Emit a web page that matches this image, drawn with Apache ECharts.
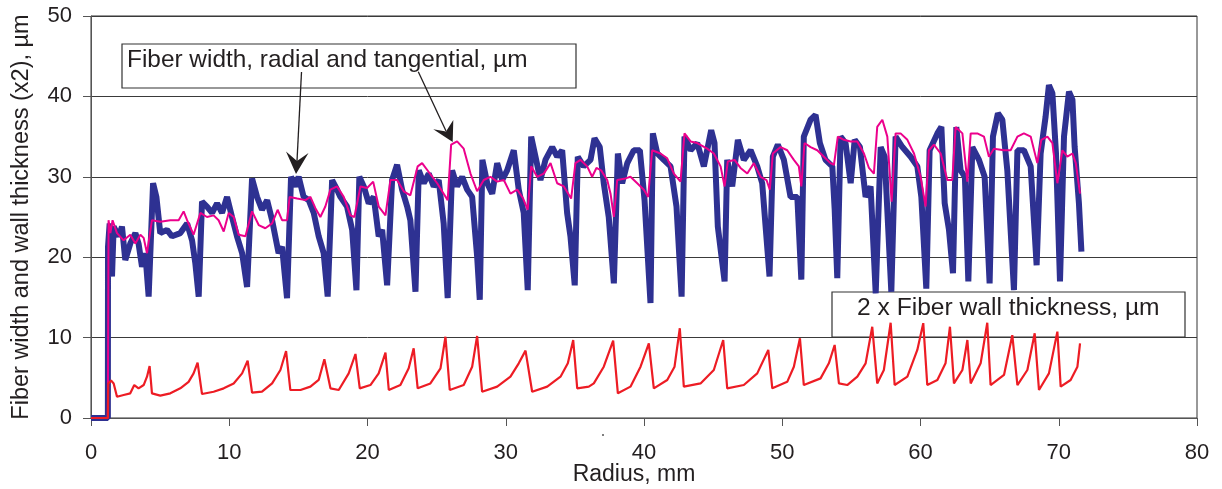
<!DOCTYPE html>
<html>
<head>
<meta charset="utf-8">
<script src="https://cdn.jsdelivr.net/npm/echarts@6/dist/echarts.min.js"></script>
<style>
html,body{margin:0;padding:0;background:#fff;}
#chart{width:1222px;height:489px;}
</style>
</head>
<body>
<div id="chart"></div>
<script>
// ---- axis ticks ----
const xTicks = [0, 10, 20, 30, 40, 50, 60, 70, 80];
const yTicks = [0, 10, 20, 30, 40, 50];

// ---- Fiber width, radial (thick blue) ----
const radialX = [0,1.22,1.23,1.35,1.52,1.64,2.0,2.24,2.48,2.84,3.21,3.44,3.69,3.93,4.17,4.49,4.73,5.01,5.5,5.86,6.46,6.95,7.31,7.55,7.79,8.03,8.39,8.76,9.12,9.48,9.84,10.2,10.56,10.93,11.29,11.65,12.01,12.37,12.74,13.1,13.57,13.82,14.18,14.47,14.78,15.02,15.38,15.75,16.11,16.47,16.83,17.12,17.44,17.8,18.04,18.52,18.89,19.2,19.41,19.73,20.09,20.45,20.81,21.06,21.42,21.78,22.14,22.5,22.87,23.1,23.47,23.71,24.07,24.43,24.79,25.15,25.51,25.8,26.12,26.48,26.85,27.21,27.57,27.93,28.12,28.31,28.66,29.02,29.38,29.74,30.1,30.58,30.94,31.3,31.59,31.84,32.15,32.51,32.87,33.36,33.72,34.08,34.44,34.68,34.99,35.21,35.64,36.13,36.42,36.8,37.09,37.45,37.82,38.11,38.42,38.79,39.26,39.7,40.04,40.47,40.64,40.96,41.43,41.92,42.35,42.72,42.93,43.37,43.85,44.33,44.86,45.1,45.34,45.83,46.02,46.38,46.79,47.22,47.71,48.19,48.55,49.08,49.32,49.68,50.12,50.6,51.09,51.38,51.56,52.05,52.41,52.72,53.13,53.62,53.79,53.98,54.22,54.58,54.95,55.24,55.62,56.03,56.39,56.76,57.12,57.41,57.89,58.2,58.69,59.29,59.77,60.06,60.42,60.66,61.22,61.51,61.75,62.06,62.35,62.59,62.9,63.21,63.46,63.75,64.23,64.64,65.0,65.24,65.6,65.92,66.28,66.76,67.01,67.48,67.97,68.4,68.69,69.05,69.29,69.54,69.8,70.09,70.38,70.74,70.99,71.15,71.46,71.64];
const radialY = [0,0,21.3,24.2,17.6,23.8,22.6,23.8,19.65,21.7,23.0,21.7,18.8,20.5,15.1,29.2,27.5,23.0,23.4,22.6,23.0,24.2,22.1,19.2,15.1,26.9,26.3,25.5,26.7,25.5,27.5,25.0,22.6,20.5,16.3,29.8,27.5,25.9,27.1,24.6,20.5,21.3,14.9,30.0,28.8,30.0,27.5,27.1,25.5,22.6,20.5,15.1,29.6,28.4,27.5,26.3,23.4,15.9,30.0,28.8,26.7,27.5,22.6,23.4,16.5,29.6,31.5,28.4,26.3,24.6,15.7,30.8,29.2,30.4,28.8,29.6,24.2,14.9,30.8,28.8,30.0,28.4,27.5,20.1,14.7,32.1,29.2,27.9,31.7,29.6,30.8,33.3,28.4,25.5,15.9,35.0,32.5,29.6,32.1,33.7,32.5,33.3,25.5,22.6,16.5,32.5,31.3,32.1,34.8,33.7,29.2,25.0,16.75,32.9,29.2,31.7,33.3,33.3,27.1,14.3,35.4,32.9,32.1,31.3,26.3,15.1,35.0,33.3,34.2,31.3,35.8,34.2,23.8,17.0,32.1,28.8,34.6,32.1,33.3,31.3,29.2,17.6,32.5,34.0,32.1,27.5,27.5,17.2,35.0,37.1,37.7,34.2,32.1,31.3,26.0,17.4,35.0,34.2,29.2,34.6,33.7,27.5,28.8,15.5,33.7,32.5,15.7,35.0,33.7,32.5,31.3,27.5,16.1,33.3,35.4,36.2,26.7,23.4,18.0,36.2,30.8,30.0,17.0,33.7,32.1,30.0,16.75,35.0,37.9,37.1,30.8,15.9,33.3,33.3,31.3,19.0,32.9,37.5,41.4,40.4,32.9,17.0,35.0,40.6,39.6,33.7,26.7,20.7];

// ---- Fiber width, tangential (thin magenta) ----
const tangX = [0,1.22,1.27,1.4,1.56,1.88,2.36,2.84,3.21,3.57,3.81,4.05,4.41,5.01,5.74,6.34,6.7,6.95,7.42,7.91,8.39,8.87,9.23,9.6,9.96,10.32,10.68,11.17,11.65,12.13,12.61,13.1,13.5,13.82,14.18,14.37,14.91,15.51,15.87,16.23,16.59,16.95,17.32,17.8,18.28,18.76,19.05,19.49,19.97,20.41,20.81,21.3,21.66,22.14,22.62,23.1,23.63,23.95,24.43,25.04,25.51,25.8,26.05,26.48,26.96,27.45,27.93,28.41,28.89,29.38,29.86,30.34,30.83,31.26,31.59,31.84,32.27,32.75,33.24,33.72,34.2,34.73,35.04,35.41,35.89,36.25,36.56,36.9,37.34,37.58,37.82,38.06,38.66,39.02,39.51,39.99,40.3,40.59,41.19,41.68,42.16,42.64,42.93,43.37,43.85,44.57,45.05,45.54,45.83,46.06,46.55,46.98,47.47,47.95,48.43,48.86,49.1,49.32,49.88,50.36,50.84,51.2,51.38,51.61,52.05,52.53,53.01,53.49,53.74,54.02,54.46,54.95,55.43,55.91,56.27,56.63,56.87,57.24,57.6,57.91,58.2,58.56,59.05,59.53,60.01,60.37,60.61,60.97,61.46,61.94,62.3,62.54,63.03,63.39,63.63,64.11,64.59,64.95,65.31,66.04,66.52,67.01,67.48,67.97,68.45,68.74,69.18,69.54,69.9,70.26,70.62,70.99,71.23,71.54];
const tangY = [0,0,24.6,23.0,24.6,23.0,22.1,22.8,21.7,22.8,22.4,20.5,24.6,24.4,24.6,24.6,25.7,24.6,22.8,25.5,25.0,25.2,24.6,23.2,25.5,25.0,22.8,22.6,25.7,24.0,23.6,24.2,25.9,24.6,24.6,27.5,27.3,27.1,27.5,26.1,25.0,26.3,28.4,28.8,27.5,25.2,25.0,28.8,28.6,29.4,26.3,25.2,29.6,29.6,28.2,27.7,31.3,31.7,30.6,29.2,27.9,27.1,34.0,34.4,33.5,30.4,28.2,29.6,30.0,29.4,29.6,27.9,28.4,27.3,25.9,31.3,30.0,30.4,31.7,29.2,28.8,27.3,31.7,32.1,31.3,30.0,31.1,30.8,29.6,27.9,25.0,29.6,29.8,30.0,29.2,28.4,27.5,33.3,32.9,32.3,30.4,29.4,35.4,34.4,34.2,33.5,32.9,31.3,28.8,31.9,32.1,31.1,30.4,31.7,30.0,29.6,28.4,32.9,33.7,33.3,32.1,31.3,28.8,34.2,33.7,33.3,32.5,31.7,31.5,35.0,34.6,34.4,34.4,32.9,31.1,30.4,36.2,37.1,35.0,26.9,35.4,35.4,34.6,32.9,30.0,26.3,33.3,34.0,32.9,29.6,29.6,36.2,35.4,29.4,35.4,35.4,35.0,32.5,33.5,33.3,33.3,35.0,35.4,35.0,31.7,34.6,35.0,34.2,29.2,33.3,32.5,32.9,31.7,27.9];

// ---- 2 x Fiber wall thickness (red) ----
const wallX = [0,1.22,1.25,1.45,1.64,1.88,2.36,2.84,3.13,3.44,3.81,4.05,4.24,4.41,5.01,5.74,6.46,7.06,7.42,7.71,8.03,8.87,9.6,10.32,10.93,11.33,11.65,12.37,13.1,13.7,14.11,14.42,15.15,15.87,16.47,16.88,17.32,17.92,18.64,19.13,19.44,20.21,20.81,21.3,21.54,22.38,22.98,23.34,23.63,24.55,25.28,25.64,25.95,26.96,27.57,27.93,28.29,29.38,30.34,30.94,31.43,31.91,33.0,33.96,34.49,34.88,35.17,36.01,36.37,37.09,37.77,38.11,39.02,39.75,40.35,40.71,41.68,42.21,42.59,42.88,44.09,45.05,45.73,46.02,47.22,48.19,48.99,49.28,50.36,50.84,51.28,51.56,52.77,53.37,53.79,54.1,54.7,55.43,56.03,56.51,56.87,57.35,57.84,58.13,59.05,59.77,60.2,60.49,61.22,61.81,62.13,62.42,63.03,63.39,63.63,64.35,64.83,65.07,66.04,66.64,67.01,67.73,68.26,68.57,69.29,69.9,70.14,70.86,71.35,71.54];
const wallY = [0,0,4.3,4.65,4.3,2.65,2.86,3.07,4.1,3.69,4.1,5.14,6.47,3.07,2.78,3.07,3.69,4.5,5.55,6.88,2.98,3.27,3.69,4.3,5.55,7.13,3.15,3.27,4.3,5.97,8.33,3.48,3.48,3.9,4.73,7.3,3.69,3.48,5.55,7.96,3.69,4.1,5.55,8.13,3.48,4.1,6.18,8.67,3.69,4.3,6.18,10.1,3.48,4.1,6.38,10.2,3.27,3.9,5.14,6.8,8.38,3.27,3.9,5.14,6.8,9.7,3.69,3.9,4.3,6.38,9.62,3.07,3.9,6.38,9.29,3.69,4.73,6.38,11.16,3.9,4.3,5.97,9.7,3.69,4.1,5.55,8.46,3.69,4.5,6.38,9.91,4.1,4.93,6.8,9.08,4.3,4.1,5.14,6.8,11.35,4.3,5.97,11.85,4.1,5.14,8.46,11.8,4.1,4.73,6.8,11.35,4.3,5.97,9.7,4.3,6.8,11.85,4.1,5.35,10.3,4.1,5.97,10.53,3.48,5.55,10.74,3.9,4.73,6.38,9.29];

// ---- annotation texts ----
const labelWidth = 'Fiber width, radial and tangential, µm';
const labelWall = '2 x Fiber wall thickness, µm';
const xName = 'Radius, mm';
const yName = 'Fiber width and wall thickness (x2), µm';

const zip = (xs, ys) => xs.map((x, i) => [x, ys[i]]);
const FONT = 'Liberation Sans, Arial, sans-serif';
const TXT = '#231f20';

const chart = echarts.init(document.getElementById('chart'), null, {renderer: 'canvas'});
chart.setOption({
  animation: false,
  backgroundColor: '#fff',
  grid: {left: 91, right: 25, top: 16, bottom: 71, containLabel: false, outerBoundsMode: 'none',
         show: true, borderColor: '#333', borderWidth: 1, backgroundColor: 'transparent'},
  xAxis: {
    type: 'value', min: xTicks[0], max: xTicks[xTicks.length - 1], interval: 10,
    name: xName, nameLocation: 'middle', nameGap: 45, nameMoveOverlap: false,
    nameTextStyle: {fontFamily: FONT, fontSize: 23, color: TXT, padding: [0, 20, 0, 0]},
    axisLine: {show: true, lineStyle: {color: '#555', width: 1}},
    axisTick: {show: true, inside: false, length: 8, lineStyle: {color: '#555'}},
    axisLabel: {fontFamily: FONT, fontSize: 22, color: TXT, margin: 24},
    splitLine: {show: false}
  },
  yAxis: {
    type: 'value', min: yTicks[0], max: yTicks[yTicks.length - 1], interval: 10,
    name: yName, nameLocation: 'middle', nameGap: 57, nameRotate: 90, nameMoveOverlap: false,
    nameTextStyle: {fontFamily: FONT, fontSize: 23.5, color: TXT},
    axisLine: {show: true, lineStyle: {color: '#555', width: 1}},
    axisTick: {show: true, inside: false, length: 8, lineStyle: {color: '#555'}},
    axisLabel: {fontFamily: FONT, fontSize: 22, color: TXT, margin: 19},
    splitLine: {show: true, lineStyle: {color: '#3a3a3a', width: 1}}
  },
  series: [
    {type: 'line', name: 'radial', data: zip(radialX, radialY), showSymbol: false, symbol: 'none',
     lineStyle: {color: '#2e3192', width: 6}, z: 2},
    {type: 'line', name: 'tangential', data: zip(tangX, tangY), showSymbol: false, symbol: 'none',
     lineStyle: {color: '#ec008c', width: 2}, z: 3},
    {type: 'line', name: 'wall', data: zip(wallX, wallY), showSymbol: false, symbol: 'none',
     lineStyle: {color: '#ed1c24', width: 2.2}, z: 4}
  ],
  graphic: [
    {type: 'rect', z: 1, shape: {x: 122, y: 44, width: 454, height: 44},
     style: {fill: '#fff', stroke: '#333', lineWidth: 1.2}},
    {type: 'text', z: 1, x: 127, y: 60,
     style: {text: labelWidth, fontFamily: FONT, fontSize: 24.4, fill: TXT, verticalAlign: 'middle', align: 'left'}},
    {type: 'rect', z: 1, shape: {x: 832, y: 292, width: 353, height: 45},
     style: {fill: '#fff', stroke: '#333', lineWidth: 1.2}},
    {type: 'text', z: 1, x: 857, y: 308,
     style: {text: labelWall, fontFamily: FONT, fontSize: 24.6, fill: TXT, verticalAlign: 'middle', align: 'left'}},
    {type: 'line', z: 100, shape: {x1: 301.5, y1: 72, x2: 297, y2: 161},
     style: {stroke: TXT, lineWidth: 1.3}},
    {type: 'polygon', z: 100, shape: {points: [[296, 174], [286, 151.5], [297, 161], [308.5, 153]]},
     style: {fill: TXT}},
    {type: 'line', z: 100, shape: {x1: 418.3, y1: 71.7, x2: 446, y2: 131},
     style: {stroke: TXT, lineWidth: 1.3}},
    {type: 'polygon', z: 100, shape: {points: [[452.7, 142], [433.3, 129.3], [446, 131.5], [453.3, 120]]},
     style: {fill: TXT}},
    {type: 'circle', z: 1, shape: {cx: 603, cy: 435, r: 1}, style: {fill: '#555'}}
  ]
});
</script>
</body>
</html>
